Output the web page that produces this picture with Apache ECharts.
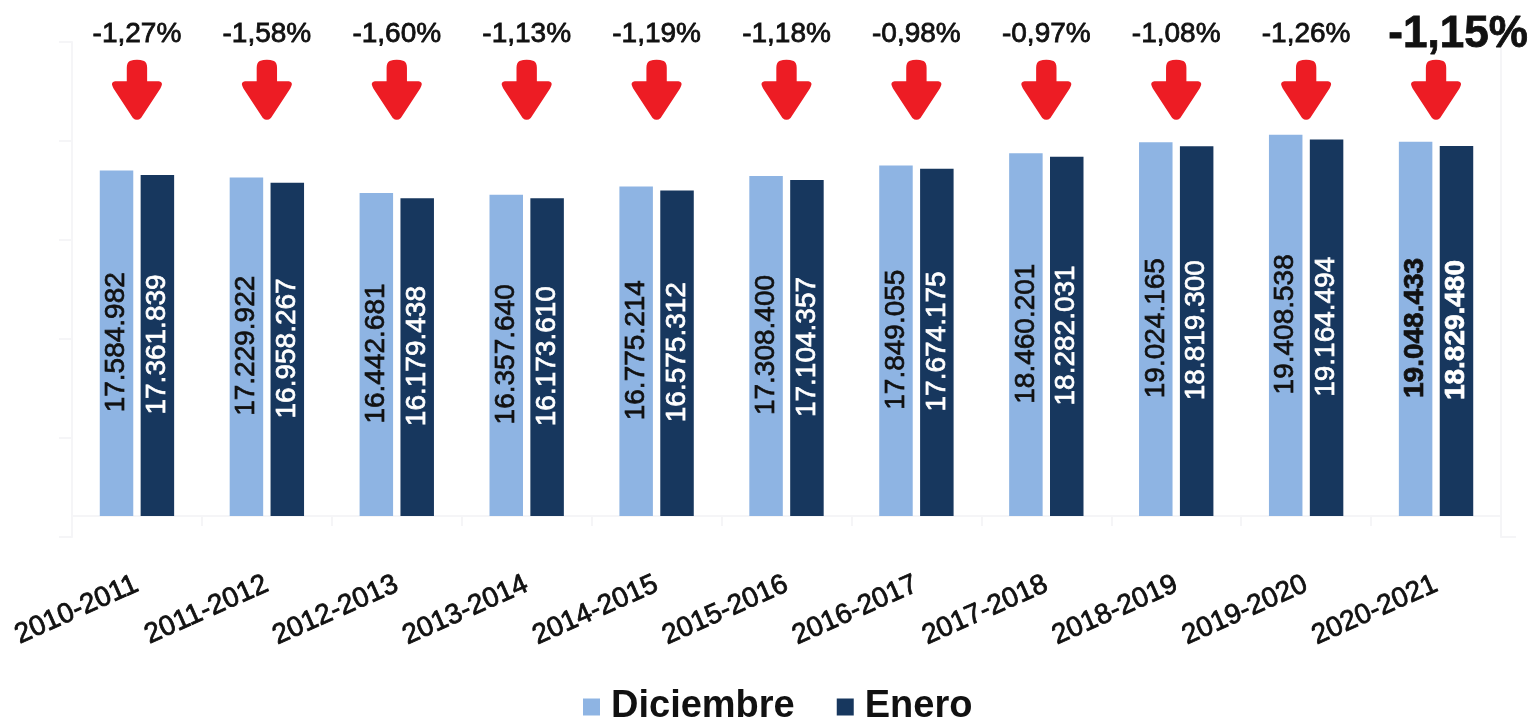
<!DOCTYPE html>
<html>
<head>
<meta charset="utf-8">
<style>
  html, body { margin: 0; padding: 0; background: #fff; }
  #chart { width: 1531px; height: 718px; }
</style>
<script src="https://cdn.jsdelivr.net/npm/echarts@6/dist/echarts.min.js"></script>
</head>
<body>
<div id="chart"></div>
<script>
const categories = ['2010-2011', '2011-2012', '2012-2013', '2013-2014', '2014-2015', '2015-2016', '2016-2017', '2017-2018', '2018-2019', '2019-2020', '2020-2021'];
const diciembre = [17584982, 17229922, 16442681, 16357640, 16775214, 17308400, 17849055, 18460201, 19024165, 19408538, 19048433];
const enero = [17361839, 16958267, 16179438, 16173610, 16575312, 17104357, 17674175, 18282031, 18819300, 19164494, 18829480];
const variacion = ['-1,27%', '-1,58%', '-1,60%', '-1,13%', '-1,19%', '-1,18%', '-0,98%', '-0,97%', '-1,08%', '-1,26%', '-1,15%'];
// altura de las flechas, en la misma escala que las barras
const flechas = [21700000, 21700000, 21700000, 21700000, 21700000, 21700000, 21700000, 21700000, 21700000, 21700000, 21700000];
const yTicks = [-1070000, 3970000, 9010000, 14050000, 19090000, 24130000];

const FONT = '"Liberation Sans", Arial, sans-serif';
const LINE = '#f5f5f7';
const flecha = 'path://M36,3 Q50,-1 64,3 Q70,6 70,14 L70,36 L93,36 Q100,37 99,42 Q98,45 96,48 L58,96 Q50,102 42,96 L4,48 Q2,45 1,42 Q0,37 7,36 L30,36 L30,14 Q30,6 36,3 Z';

const fmt = (v) => String(v).replace(/\B(?=(\d{3})+$)/g, '.');
const last = categories.length - 1;

const myChart = echarts.init(document.getElementById('chart'));
myChart.setOption({
  animation: false,
  backgroundColor: '#fff',
  textStyle: { fontFamily: FONT },
  legend: {
    data: ['Diciembre', 'Enero'],
    left: 578,
    top: 683,
    itemWidth: 17,
    itemHeight: 17,
    itemGap: 42,
    icon: 'rect',
    textStyle: { fontFamily: FONT, fontSize: 38, fontWeight: 'bold', color: '#111', padding: [0, 0, 0, 6] }
  },
  grid: { left: 72, right: 30, top: 42, bottom: 181 },
  xAxis: {
    type: 'category',
    data: categories,
    axisLine: { onZero: true, lineStyle: { color: LINE, width: 2 } },
    axisTick: { show: true, length: 10, alignWithLabel: false, lineStyle: { color: LINE, width: 2 } },
    axisLabel: {
      interval: 0,
      rotate: 24,
      margin: 46,
      color: '#111',
      fontFamily: FONT,
      fontSize: 28,
      textBorderColor: '#111',
      textBorderWidth: 0.8
    }
  },
  yAxis: [{
    type: 'value',
    min: -1070000,
    max: 24130000,
    axisLine: { show: true, lineStyle: { color: LINE, width: 2 } },
    axisTick: { show: true, length: 13, customValues: yTicks, lineStyle: { color: LINE, width: 2 } },
    axisLabel: { show: false },
    splitLine: { show: false }
  }, {
    type: 'value',
    position: 'right',
    min: -1070000,
    max: 24130000,
    axisLine: { show: true, lineStyle: { color: LINE, width: 2 } },
    axisTick: { show: true, length: 15, customValues: [yTicks[0]], lineStyle: { color: LINE, width: 2 } },
    axisLabel: { show: false },
    splitLine: { show: false }
  }],
  series: [{
    name: 'Diciembre',
    type: 'bar',
    data: diciembre.map((v, i) => ({
      value: v,
      label: i === last ? { fontWeight: 'bold' } : undefined
    })),
    barWidth: 33.5,
    barGap: '22%',
    itemStyle: { color: '#8EB4E3' },
    label: {
      show: true,
      position: 'inside',
      rotate: 90,
      offset: [1, 0],
      color: '#111',
      fontFamily: FONT,
      fontSize: 28,
      textBorderColor: '#111',
      textBorderWidth: 0.7,
      formatter: (p) => fmt(p.value)
    }
  }, {
    name: 'Enero',
    type: 'bar',
    data: enero.map((v, i) => ({
      value: v,
      label: i === last ? { fontWeight: 'bold' } : undefined
    })),
    barWidth: 33.5,
    itemStyle: { color: '#17375E' },
    label: {
      show: true,
      position: 'inside',
      rotate: 90,
      offset: [1, 0],
      color: '#fff',
      fontFamily: FONT,
      fontSize: 28,
      textBorderColor: '#fff',
      textBorderWidth: 0.7,
      formatter: (p) => fmt(p.value)
    }
  }, {
    name: 'Flechas',
    type: 'scatter',
    clip: false,
    symbol: flecha,
    symbolSize: [50, 60],
    itemStyle: { color: '#ED1C24', opacity: 1 },
    data: flechas.map((v, i) => ({
      value: [i, v],
      label: i === last ? { fontSize: 44, fontWeight: 'bold', offset: [22, 8] } : undefined
    })),
    label: {
      show: true,
      position: 'top',
      distance: 11,
      color: '#111',
      fontFamily: FONT,
      fontSize: 28,
      textBorderColor: '#111',
      textBorderWidth: 0.8,
      formatter: (p) => variacion[p.dataIndex]
    }
  }]
});
window.addEventListener('resize', () => myChart.resize());
</script>
</body>
</html>
